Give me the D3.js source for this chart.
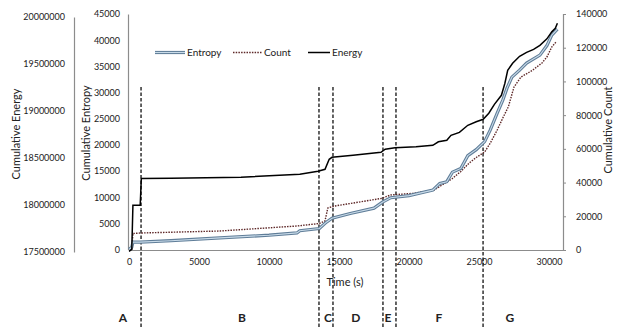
<!DOCTYPE html>
<html><head><meta charset="utf-8">
<script src="https://cdn.jsdelivr.net/npm/d3@7"></script>
<style>
html,body{margin:0;padding:0;background:#fff;}
text{font-family:Lato,"Open Sans",sans-serif;fill:#222;}
</style></head>
<body><svg id="c" width="624" height="328"></svg>
<script>
// ---- data ----
const energyTime = [0,200,280,800,880,3000,8000,12200,13500,14000,14300,14500,16000,18000,18300,19000,20500,21700,22100,22700,23000,23600,24200,24800,25300,25700,26100,26600,26850,27050,27400,27900,28400,28900,29350,29850,30200,30450,30600];
const energyValues = [17507000,17529000,17997000,17997000,18281000,18284000,18295000,18327000,18359000,18380000,18486000,18507000,18529000,18561000,18593000,18608000,18619000,18635000,18672000,18688000,18741000,18773000,18848000,18885000,18912000,18976000,19071000,19167000,19295000,19433000,19507000,19582000,19624000,19656000,19699000,19768000,19842000,19880000,19933000];
const entropyTime = [0,200,280,800,3000,6500,10000,12000,12200,13600,14100,14500,15800,17500,18100,18700,20000,21700,22200,22700,23100,23700,24200,24800,25400,25800,26300,26700,27000,27350,27900,28400,29350,29850,30200,30600];
const entropyValues = [0,440,1400,1400,1680,2220,2730,3170,3590,4015,5220,5985,6880,7900,9040,9900,10290,11340,12620,12960,14780,15490,17930,19080,20610,22810,26060,28550,30840,32940,34280,35620,37150,38970,40970,42120];
const countTime = [0,200,280,800,6500,12000,13600,14000,14200,14700,18000,18700,20300,21800,22300,23100,23700,24300,24800,25400,25800,26300,26700,27100,27500,28000,28800,29500,29850,30200,30500];
const countValues = [0,600,9790,10080,11270,14240,15720,17200,24910,26100,30550,32630,33630,35590,38260,42410,46570,51610,54870,58130,63290,71180,78300,85000,96690,102620,106480,110930,114490,120420,123390];
const phaseBoundaries = [860,13570,14570,18140,19070,25290];
const phaseLabels = ["A","B","C","D","E","F","G"];
const phaseLabelTime = [-430,8070,14210,16210,18500,22140,27210];
const timeTicks = [0,5000,10000,15000,20000,25000,30000];
const entropyTicks = [0,5000,10000,15000,20000,25000,30000,35000,40000,45000];
const energyTicks = [17500000,18000000,18500000,19000000,19500000,20000000];
const countTicks = [0,20000,40000,60000,80000,100000,120000,140000];
const seriesNames = ["Entropy","Count","Energy"];

// ---- drawing ----
const svg = d3.select("#c");
const x = d3.scaleLinear().domain([0,31000]).range([129,563]);
const yEnt = d3.scaleLinear().domain([0,45000]).range([249.5,14]);
const yCnt = d3.scaleLinear().domain([0,140000]).range([250,14]);
const yEng = d3.scaleLinear().domain([17500000,20000000]).range([252,17]);
const grey = "#8c8c8c";

function styleAxis(g){
  g.select(".domain").attr("stroke",grey).attr("stroke-width",1.2);
  g.selectAll(".tick line").attr("stroke",grey);
  g.selectAll(".tick text").attr("font-size","9px").attr("fill","#222").style("font-family","Lato, 'Open Sans', sans-serif");
}

svg.append("g").attr("transform","translate(74,0)")
  .call(d3.axisLeft(yEng).tickValues(energyTicks).tickFormat(d3.format("d")).tickSize(0).tickPadding(9))
  .call(styleAxis);
svg.append("g").attr("transform","translate(128,0)")
  .call(d3.axisLeft(yEnt).tickValues(entropyTicks).tickFormat(d3.format("d")).tickSize(0).tickPadding(8))
  .call(styleAxis);
svg.append("g").attr("transform","translate(563,0)")
  .call(d3.axisRight(yCnt).tickValues(countTicks).tickFormat(d3.format("d")).tickSize(3).tickPadding(10))
  .call(styleAxis);
svg.append("g").attr("transform","translate(0,250)")
  .call(d3.axisBottom(x).tickValues(timeTicks).tickFormat(d3.format("d")).tickSize(0).tickPadding(9))
  .call(styleAxis);

svg.append("text").attr("transform","translate(20,134) rotate(-90)").attr("text-anchor","middle").attr("font-size","11px").text("Cumulative Energy");
svg.append("text").attr("transform","translate(90,133) rotate(-90)").attr("text-anchor","middle").attr("font-size","11px").text("Cumulative Entropy");
svg.append("text").attr("transform","translate(612,130) rotate(-90)").attr("text-anchor","middle").attr("font-size","11px").text("Cumulative Count");
svg.append("text").attr("x",345).attr("y",286).attr("text-anchor","middle").attr("font-size","11px").text("Time (s)");

svg.selectAll(".phase").data(phaseBoundaries).enter().append("line")
  .attr("x1",d=>x(d)).attr("x2",d=>x(d)).attr("y1",87).attr("y2",328)
  .attr("stroke","#111").attr("stroke-width",1.3).attr("stroke-dasharray","3.5,2");
svg.selectAll(".plab").data(phaseLabels).enter().append("text")
  .attr("x",(d,i)=>x(phaseLabelTime[i])).attr("y",322).attr("text-anchor","middle")
  .attr("font-size","12px").attr("font-weight","bold").text(d=>d);

const lineOf = (ts,vs,ys) => d3.line().x((d,i)=>x(ts[i])).y((d,i)=>ys(vs[i]))(vs);
svg.append("path").attr("d",lineOf(countTime,countValues,yCnt)).attr("fill","none")
  .attr("stroke","#5e2828").attr("stroke-width",1.4).attr("stroke-dasharray","1.5,1.2");
svg.append("path").attr("d",lineOf(entropyTime,entropyValues,yEnt)).attr("fill","none")
  .attr("stroke","#5f7d98").attr("stroke-width",3.2);
svg.append("path").attr("d",lineOf(entropyTime,entropyValues,yEnt)).attr("fill","none")
  .attr("stroke","#c9dbe9").attr("stroke-width",1.1);
svg.append("path").attr("d",lineOf(energyTime,energyValues,yEng)).attr("fill","none")
  .attr("stroke","#000").attr("stroke-width",1.5);

const leg = svg.append("g");
const legX = [155,233,308], legW=[30,29,22];
seriesNames.forEach((n,i)=>{
  const g = leg.append("g");
  if(i===0){
    g.append("line").attr("x1",legX[i]).attr("x2",legX[i]+legW[i]).attr("y1",52.5).attr("y2",52.5).attr("stroke","#5f7d98").attr("stroke-width",3.2);
    g.append("line").attr("x1",legX[i]).attr("x2",legX[i]+legW[i]).attr("y1",52.5).attr("y2",52.5).attr("stroke","#c9dbe9").attr("stroke-width",1.1);
  } else if(i===1){
    g.append("line").attr("x1",legX[i]).attr("x2",legX[i]+legW[i]).attr("y1",52.5).attr("y2",52.5).attr("stroke","#5e2828").attr("stroke-width",1.4).attr("stroke-dasharray","1.5,1.2");
  } else {
    g.append("line").attr("x1",legX[i]).attr("x2",legX[i]+legW[i]).attr("y1",52.5).attr("y2",52.5).attr("stroke","#000").attr("stroke-width",1.5);
  }
  g.append("text").attr("x",legX[i]+legW[i]+2).attr("y",56).attr("font-size","10px").text(n);
});
</script></body></html>
